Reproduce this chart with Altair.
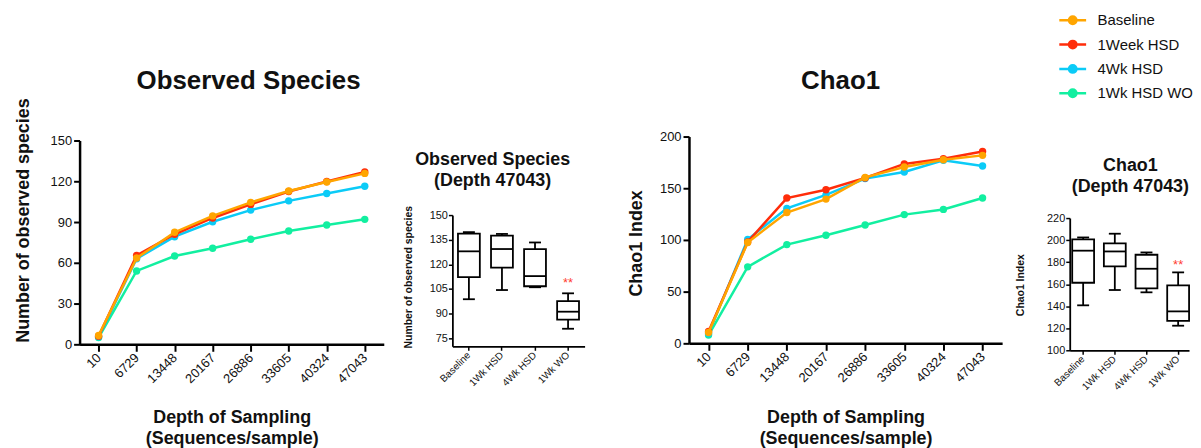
import altair as alt
import pandas as pd

FONT = "Liberation Sans"

# ---------------- data ----------------
depths = ["10", "6729", "13448", "20167", "26886", "33605", "40324", "47043"]
series_names = ["Baseline", "1Week HSD", "4Wk HSD", "1Wk HSD WO"]
series_colors = ["#FFA500", "#FF2D0A", "#0BCBF7", "#12EFA0"]

obs_baseline = [6.5, 63.5, 82.5, 94.5, 104.5, 112.8, 119.5, 125.8]
obs_1week = [6.0, 65.5, 81.0, 93.0, 103.0, 112.5, 119.8, 126.8]
obs_4wk = [5.5, 63.0, 79.2, 90.2, 98.8, 105.6, 111.0, 116.3]
obs_wo = [5.0, 54.0, 65.0, 70.7, 77.3, 83.4, 87.8, 92.0]

chao_baseline = [10.5, 97.5, 126.5, 139.5, 160.5, 170.5, 177.5, 181.8]
chao_1week = [11.5, 98.0, 140.5, 148.5, 160.0, 173.5, 178.5, 185.6]
chao_4wk = [9.5, 100.5, 130.5, 143.5, 159.3, 165.7, 177.0, 171.5]
chao_wo = [8.0, 74.0, 95.5, 104.5, 114.5, 124.5, 129.5, 140.5]

groups = ["Baseline", "1Wk HSD", "4Wk HSD", "1Wk WO"]
obs_min = [98.7, 104.3, 106.0, 80.7]
obs_q1 = [112.2, 118.0, 106.6, 86.3]
obs_med = [127.9, 129.3, 112.8, 91.1]
obs_q3 = [138.7, 137.5, 129.3, 97.5]
obs_max = [139.6, 138.5, 133.3, 102.3]

chao_min = [140.8, 154.7, 152.6, 122.3]
chao_q1 = [161.3, 176.1, 156.2, 126.6]
chao_med = [190.4, 189.7, 174.0, 135.3]
chao_q3 = [200.6, 197.0, 186.7, 158.9]
chao_max = [202.4, 205.8, 188.8, 170.7]

sig_group = ["1Wk WO"]
obs_sig_y = [108.5]
chao_sig_y = [177.5]
sig_label = ["**"]


def long_df(series_values):
    rows = []
    for name, vals in zip(series_names, series_values):
        for d, v in zip(depths, vals):
            rows.append({"depth": d, "value": v, "series": name})
    return pd.DataFrame(rows)


obs_df = long_df([obs_baseline, obs_1week, obs_4wk, obs_wo])
chao_df = long_df([chao_baseline, chao_1week, chao_4wk, chao_wo])
obs_box = pd.DataFrame({"g": groups, "mn": obs_min, "q1": obs_q1, "med": obs_med, "q3": obs_q3, "mx": obs_max})
chao_box = pd.DataFrame({"g": groups, "mn": chao_min, "q1": chao_q1, "med": chao_med, "q3": chao_q3, "mx": chao_max})
obs_sig = pd.DataFrame({"g": sig_group, "y": obs_sig_y, "t": sig_label})
chao_sig = pd.DataFrame({"g": sig_group, "y": chao_sig_y, "t": sig_label})

color_scale = alt.Scale(domain=series_names, range=series_colors)
sym_path = "M-2,0L2,0M0.55,0A0.55,0.55,0,1,1,-0.55,0A0.55,0.55,0,1,1,0.55,0Z"
legend = alt.Legend(
    title=None, orient="none", legendX=991, legendY=-125, offset=0, padding=0,
    labelFont=FONT, labelFontSize=15, labelColor="#111",
    symbolType=sym_path, symbolSize=182, symbolStrokeWidth=2.5,
    labelOffset=17, rowPadding=6.5, symbolOpacity=1,
)

TOP = -128  # common top of every panel (page y = 8); plot origin at page y = 136


def anchor(x1, x2, y2):
    return alt.Chart(pd.DataFrame({"a": [0]})).mark_rule(strokeOpacity=0).encode(
        x=alt.value(x1), x2=alt.value(x2), y=alt.value(TOP), y2=alt.value(y2))


def line_panel(df, w, h, yrange, ymax, yticks, ytitle, ytx, yty, xty, title, tdx, toff, anc):
    x = alt.X("depth:O", sort=depths, scale=alt.Scale(type="point", padding=0.5),
              axis=alt.Axis(title=["Depth of Sampling", "(Sequences/sample)"],
                            labelAngle=-45, labelAlign="right", labelBaseline="middle",
                            labelFont=FONT, labelFontSize=13, labelColor="#111", labelPadding=4,
                            tickSize=7, tickWidth=2, tickColor="black",
                            domainWidth=2.5, domainColor="black",
                            titleFont=FONT, titleFontSize=18, titleFontWeight="bold", titleColor="#111",
                            titleX=w / 2, titleY=xty, titleBaseline="alphabetic", titleAlign="center",
                            titleLineHeight=21))
    y = alt.Y("value:Q", scale=alt.Scale(domain=[0, ymax], nice=False, range=yrange),
              axis=alt.Axis(values=yticks, title=ytitle, grid=False,
                            labelFont=FONT, labelFontSize=13, labelColor="#111", labelPadding=2,
                            tickSize=6, tickWidth=2, tickColor="black",
                            domainWidth=2.5, domainColor="black",
                            titleFont=FONT, titleFontSize=18, titleFontWeight="bold", titleColor="#111",
                            titleX=ytx, titleY=yty, titleBaseline="bottom", titleAlign="center"))
    color = alt.Color("series:N", scale=color_scale, legend=legend)
    base = alt.Chart(df)
    layers = [anchor(*anc)]
    for name in reversed(series_names):
        sub = base.transform_filter(alt.datum.series == name)
        layers.append(sub.mark_line(strokeWidth=2.5).encode(x=x, y=y, color=color))
        layers.append(sub.mark_circle(size=55, opacity=1).encode(x=x, y=y, color=color))
    return alt.layer(*layers).properties(
        width=w, height=h,
        title=alt.TitleParams(title, font=FONT, fontSize=26, fontWeight="bold", color="#111",
                              anchor="middle", dx=tdx, offset=toff, baseline="bottom"))


def box_panel(df, sig, w, h, xsc, yrange, ymin, ymax, yticks, ytitle, ytx, yty, title, tdx, toff, anc):
    x = alt.X("g:N", sort=groups, scale=xsc,
              axis=alt.Axis(title=None, labelAngle=-45, labelAlign="right", labelBaseline="middle",
                            labelFont=FONT, labelFontSize=10, labelColor="#111", labelPadding=3,
                            tickSize=4, tickWidth=1.5, tickColor="black",
                            domainWidth=1.8, domainColor="black"))
    yax = alt.Axis(values=yticks, title=ytitle, grid=False,
                   labelFont=FONT, labelFontSize=11, labelColor="#111", labelPadding=1,
                   tickSize=4, tickWidth=1.5, tickColor="black",
                   domainWidth=1.8, domainColor="black",
                   titleFont=FONT, titleFontSize=10.5, titleFontWeight="bold", titleColor="#111",
                   titleX=ytx, titleY=yty, titleBaseline="bottom", titleAlign="center")
    ysc = alt.Scale(domain=[ymin, ymax], nice=False, zero=False, range=yrange)
    base = alt.Chart(df)
    whisk = base.mark_rule(color="black", strokeWidth=1.8).encode(
        x=x, y=alt.Y("mn:Q", scale=ysc, axis=yax), y2="mx:Q")
    box = base.mark_bar(size=22, fill="white", stroke="black", strokeWidth=1.8).encode(
        x=x, y=alt.Y("q1:Q", scale=ysc, axis=yax), y2="q3:Q")
    med = base.mark_tick(size=22, thickness=1.8, color="black", opacity=1).encode(
        x=x, y=alt.Y("med:Q", scale=ysc, axis=yax))
    cap_lo = base.mark_tick(size=12, thickness=1.8, color="black", opacity=1).encode(
        x=x, y=alt.Y("mn:Q", scale=ysc, axis=yax))
    cap_hi = base.mark_tick(size=12, thickness=1.8, color="black", opacity=1).encode(
        x=x, y=alt.Y("mx:Q", scale=ysc, axis=yax))
    star = alt.Chart(sig).mark_text(color="#FF3B30", fontSize=13, font=FONT, baseline="middle").encode(
        x=alt.X("g:N", sort=groups, scale=xsc),
        y=alt.Y("y:Q", scale=ysc, axis=yax), text="t:N")
    return alt.layer(anchor(*anc), whisk, box, med, cap_lo, cap_hi, star).properties(
        width=w, height=h,
        title=alt.TitleParams(title, font=FONT, fontSize=18, fontWeight="bold", color="#111",
                              anchor="middle", dx=tdx, offset=toff, baseline="bottom", lineHeight=21))


pA = line_panel(obs_df, 306, 209, [209, 4], 150, [0, 30, 60, 90, 120, 150], "Number of observed species",
                -47, 84, 79, "Observed Species", 17, -111, (-72, 326, 304))
pB = box_panel(obs_box, obs_sig, 133, 211, alt.Scale(paddingInner=0.3, paddingOuter=0.15),
               [211, 79], 70, 150, [75, 90, 105, 120, 135, 150],
               "Number of observed species", -39, 141, ["Observed Species", "(Depth 47043)"], -26, -200,
               (-49, 172, 304))
pC = line_panel(chao_df, 315, 208, [208, 0], 200, [0, 50, 100, 150, 200], "Chao1 Index",
                -44, 107, 80, "Chao1", -5, -111, (-66, 321, 304))
pD = box_panel(chao_box, chao_sig, 120, 215,
               alt.Scale(paddingInner=0.3125, paddingOuter=0.04, align=1),
               [215, 82], 100, 220, [100, 120, 140, 160, 180, 200, 220],
               "Chao1 Index", -45, 149, ["Chao1", "(Depth 47043)"], 1, -206,
               (-62, 120, 304))

chart = alt.hconcat(pA, pB, pC, pD, spacing=0).resolve_scale(
    color="shared", x="independent", y="independent").resolve_legend(color="shared").properties(
    padding=0, background="white").configure_view(stroke="transparent", strokeWidth=0)

chart.save("out.html", embed_options={"renderer": "svg", "actions": False})
